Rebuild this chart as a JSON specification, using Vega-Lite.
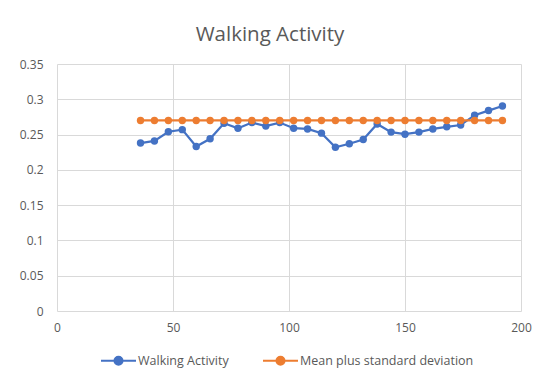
{
  "$schema": "https://vega.github.io/schema/vega-lite/v6.json",
  "width": 464,
  "height": 247,
  "autosize": {"type": "none"},
  "padding": {"left": 57, "top": 64, "right": 29, "bottom": 75},
  "background": "white",
  "title": {
    "text": "Walking Activity",
    "font": "Open Sans",
    "fontSize": 20.5,
    "fontWeight": "normal",
    "color": "#595959",
    "anchor": "middle",
    "dx": -19,
    "offset": 13
  },
  "data": {
    "values": [
      {"t": 36, "v": 0.238, "s": "Walking Activity"},
      {"t": 42, "v": 0.241, "s": "Walking Activity"},
      {"t": 48, "v": 0.254, "s": "Walking Activity"},
      {"t": 54, "v": 0.257, "s": "Walking Activity"},
      {"t": 60, "v": 0.233, "s": "Walking Activity"},
      {"t": 66, "v": 0.244, "s": "Walking Activity"},
      {"t": 72, "v": 0.266, "s": "Walking Activity"},
      {"t": 78, "v": 0.259, "s": "Walking Activity"},
      {"t": 84, "v": 0.267, "s": "Walking Activity"},
      {"t": 90, "v": 0.262, "s": "Walking Activity"},
      {"t": 96, "v": 0.267, "s": "Walking Activity"},
      {"t": 102, "v": 0.259, "s": "Walking Activity"},
      {"t": 108, "v": 0.258, "s": "Walking Activity"},
      {"t": 114, "v": 0.252, "s": "Walking Activity"},
      {"t": 120, "v": 0.232, "s": "Walking Activity"},
      {"t": 126, "v": 0.237, "s": "Walking Activity"},
      {"t": 132, "v": 0.243, "s": "Walking Activity"},
      {"t": 138, "v": 0.265, "s": "Walking Activity"},
      {"t": 144, "v": 0.2535, "s": "Walking Activity"},
      {"t": 150, "v": 0.2505, "s": "Walking Activity"},
      {"t": 156, "v": 0.2535, "s": "Walking Activity"},
      {"t": 162, "v": 0.258, "s": "Walking Activity"},
      {"t": 168, "v": 0.261, "s": "Walking Activity"},
      {"t": 174, "v": 0.2635, "s": "Walking Activity"},
      {"t": 180, "v": 0.2775, "s": "Walking Activity"},
      {"t": 186, "v": 0.284, "s": "Walking Activity"},
      {"t": 192, "v": 0.2905, "s": "Walking Activity"},
      {"t": 36, "v": 0.27, "s": "Mean plus standard deviation"},
      {"t": 42, "v": 0.27, "s": "Mean plus standard deviation"},
      {"t": 48, "v": 0.27, "s": "Mean plus standard deviation"},
      {"t": 54, "v": 0.27, "s": "Mean plus standard deviation"},
      {"t": 60, "v": 0.27, "s": "Mean plus standard deviation"},
      {"t": 66, "v": 0.27, "s": "Mean plus standard deviation"},
      {"t": 72, "v": 0.27, "s": "Mean plus standard deviation"},
      {"t": 78, "v": 0.27, "s": "Mean plus standard deviation"},
      {"t": 84, "v": 0.27, "s": "Mean plus standard deviation"},
      {"t": 90, "v": 0.27, "s": "Mean plus standard deviation"},
      {"t": 96, "v": 0.27, "s": "Mean plus standard deviation"},
      {"t": 102, "v": 0.27, "s": "Mean plus standard deviation"},
      {"t": 108, "v": 0.27, "s": "Mean plus standard deviation"},
      {"t": 114, "v": 0.27, "s": "Mean plus standard deviation"},
      {"t": 120, "v": 0.27, "s": "Mean plus standard deviation"},
      {"t": 126, "v": 0.27, "s": "Mean plus standard deviation"},
      {"t": 132, "v": 0.27, "s": "Mean plus standard deviation"},
      {"t": 138, "v": 0.27, "s": "Mean plus standard deviation"},
      {"t": 144, "v": 0.27, "s": "Mean plus standard deviation"},
      {"t": 150, "v": 0.27, "s": "Mean plus standard deviation"},
      {"t": 156, "v": 0.27, "s": "Mean plus standard deviation"},
      {"t": 162, "v": 0.27, "s": "Mean plus standard deviation"},
      {"t": 168, "v": 0.27, "s": "Mean plus standard deviation"},
      {"t": 174, "v": 0.27, "s": "Mean plus standard deviation"},
      {"t": 180, "v": 0.27, "s": "Mean plus standard deviation"},
      {"t": 186, "v": 0.27, "s": "Mean plus standard deviation"},
      {"t": 192, "v": 0.27, "s": "Mean plus standard deviation"}
    ]
  },
  "mark": {
    "type": "line",
    "strokeWidth": 2.25,
    "point": {"filled": true, "size": 55, "opacity": 1}
  },
  "encoding": {
    "x": {
      "field": "t",
      "type": "quantitative",
      "scale": {"domain": [0, 200], "nice": false},
      "axis": {
        "title": null,
        "values": [0, 50, 100, 150, 200],
        "domain": false,
        "ticks": false,
        "tickSize": 0,
        "labelPadding": 11,
        "labelFont": "Open Sans",
        "labelFontSize": 12,
        "labelColor": "#595959",
        "gridColor": "#d9d9d9",
        "gridWidth": 1,
        "labelFlush": false
      }
    },
    "y": {
      "field": "v",
      "type": "quantitative",
      "scale": {"domain": [0, 0.35], "nice": false},
      "axis": {
        "title": null,
        "values": [0, 0.05, 0.1, 0.15, 0.2, 0.25, 0.3, 0.35],
        "format": "~g",
        "domain": false,
        "ticks": false,
        "tickSize": 0,
        "labelPadding": 14,
        "labelFont": "Open Sans",
        "labelFontSize": 12,
        "labelColor": "#595959",
        "gridColor": "#d9d9d9",
        "gridWidth": 1
      }
    },
    "color": {
      "field": "s",
      "type": "nominal",
      "scale": {
        "domain": ["Walking Activity", "Mean plus standard deviation"],
        "range": ["#4472C4", "#ED7D31"]
      },
      "legend": {
        "title": null,
        "orient": "none",
        "legendX": 43,
        "legendY": 278,
        "direction": "horizontal",
        "symbolType": "M-1,0H1M0.23,0A0.23,0.23,0,1,1,-0.23,0A0.23,0.23,0,1,1,0.23,0Z",
        "symbolSize": 1225,
        "symbolStrokeWidth": 2,
        "labelFont": "Open Sans",
        "labelFontSize": 12.5,
        "labelColor": "#595959",
        "labelOffset": 1,
        "labelLimit": 400,
        "columnPadding": 30,
        "encode": {
          "symbols": {"update": {"fill": {"scale": "color", "field": "value"}, "fillOpacity": {"value": 1}}}
        }
      }
    }
  },
  "config": {"view": {"stroke": null}}
}
